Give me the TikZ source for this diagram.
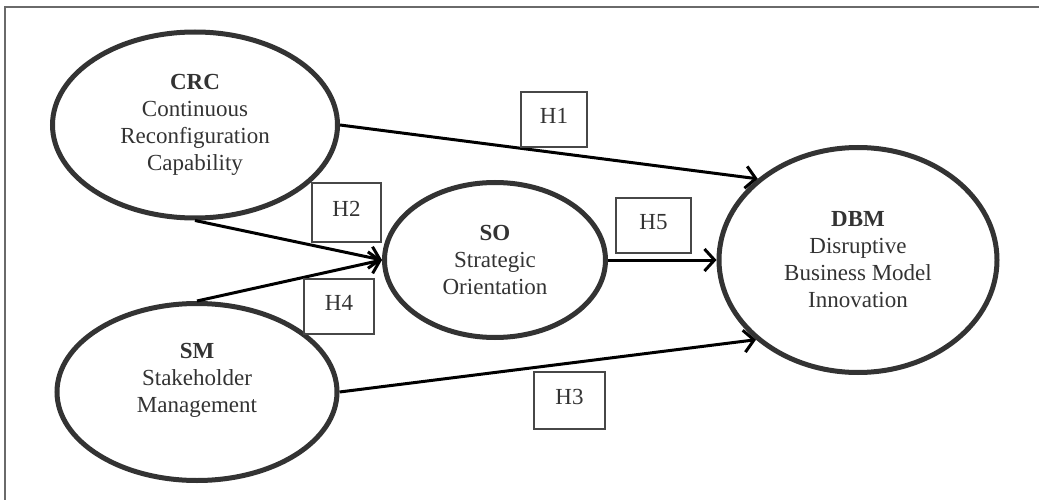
\documentclass[tikz,border=0pt]{standalone}
\usepackage{fontspec}
\setmainfont{Liberation Serif}
\usetikzlibrary{shapes.geometric,arrows.meta}

\definecolor{ringgray}{HTML}{333333}
\definecolor{textgray}{HTML}{333333}
\definecolor{framegray}{HTML}{6A6A6A}

\tikzset{
  construct/.style={ellipse, draw=ringgray, line width=5pt, inner sep=0pt,
    align=center, text=textgray, font=\fontsize{23}{27}\selectfont},
  hbox/.style={draw=ringgray!90, line width=1.5pt, inner sep=0pt,
    text=textgray, font=\fontsize{23}{27}\selectfont, text depth=8pt},
  path/.style={line width=3pt, -{Straight Barb[length=10pt,width=22pt]}}
}

\begin{document}
\begin{tikzpicture}[x=1pt, y=-1pt]

    % Fix the page size
    \useasboundingbox (0,0) rectangle (1039,500);

    % Draw the frame
    \coordinate (topleft) at (5,7);
    \draw[framegray, line width=1.5pt] (5,500) -- (topleft) -- (1039,7);

    % Draw the constructs
    \node[construct, minimum width=285pt, minimum height=186pt] (CRC) at (195,125)
        {\textbf{CRC}\\Continuous\\Reconfiguration\\Capability};
    \node[construct, minimum width=221pt, minimum height=155pt] (SO) at (495,260)
        {\textbf{SO}\\Strategic\\Orientation};
    \node[construct, minimum width=278pt, minimum height=225pt] (DBM) at (858,260)
        {\textbf{DBM}\\Disruptive\\Business Model\\Innovation};
    \node[construct, minimum width=280pt, minimum height=177pt] (SM) at (197,392) {};
    \node[align=center, text=textgray, font=\fontsize{23}{27}\selectfont] (SMtext) at (197,380)
        {\textbf{SM}\\Stakeholder\\Management};

    % Draw the hypothesised paths
    \draw[path] (CRC.east) -- (DBM.141);
    \draw[path] (CRC.south) -- (SO.west);
    \draw[path] (SM.north) -- (SO.west);
    \draw[path] (SO.east) -- (DBM.west);
    \draw[path] (SM.east) -- (DBM.218);

    % Label the paths
    \node[hbox, minimum width=66pt, minimum height=55pt] (H1) at (554,119.5) {H1};
    \node[hbox, minimum width=69pt, minimum height=59pt] (H2) at (346.5,212.5) {H2};
    \node[hbox, minimum width=71pt, minimum height=57pt] (H3) at (569.5,400.5) {H3};
    \node[hbox, minimum width=70pt, minimum height=55pt] (H4) at (339,306.5) {H4};
    \node[hbox, minimum width=75pt, minimum height=55pt] (H5) at (653.5,225.5) {H5};

\end{tikzpicture}
\end{document}
